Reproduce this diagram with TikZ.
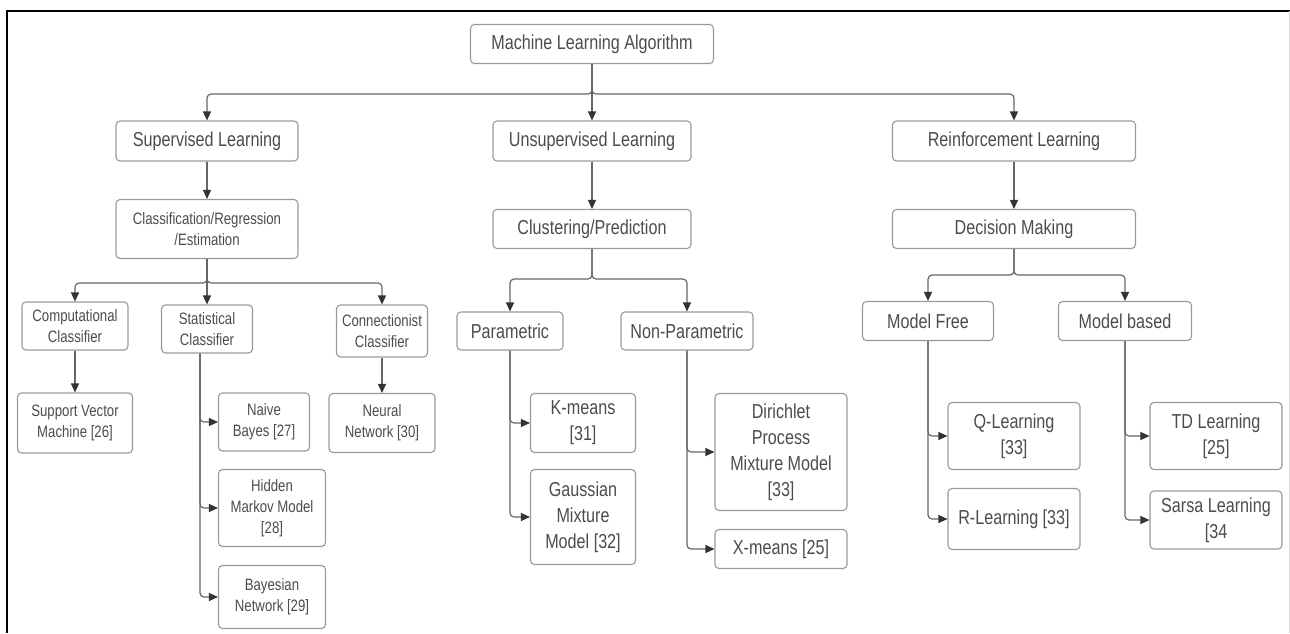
\documentclass[tikz,border=0pt]{standalone}
\usepackage{fontspec}
\setmainfont{Liberation Sans}[FakeStretch=0.8]
\usetikzlibrary{arrows.meta}
\tikzset{box/.style={draw=black!40, rounded corners=4pt, line width=1.1pt, text=black!70, align=center, inner sep=0pt}}
\tikzset{bigtext/.style={font=\fontsize{20.2}{26}\selectfont}}
\tikzset{smalltext/.style={font=\fontsize{16.5}{21}\selectfont}}
\tikzset{boxsize/.style 2 args={minimum width=#1, minimum height=#2}}
\tikzset{link/.style={draw=black!60, line width=1.2pt, rounded corners=4pt, ->, >={Triangle[length=9pt,width=8pt,color=black!80]}}}

\begin{document}
\begin{tikzpicture}[x=1pt,y=-1pt]
\useasboundingbox (0,0) rectangle (1290,633);
% frame
\draw[line width=2pt] (7,633) -- (7,11) -- (1290,11);
\draw[black!15, line width=1pt] (1289,11) -- (1289,633);

% top levels
\node[box,bigtext,boxsize={243}{39}] (mla) at (592,44) {Machine Learning Algorithm};
\node[box,bigtext,boxsize={182}{40}] (sup) at (207,141) {Supervised Learning};
\node[box,bigtext,boxsize={198}{40}] (uns) at (592,141) {Unsupervised Learning};
\node[box,bigtext,boxsize={243}{40}] (rein) at (1014,141) {Reinforcement Learning};
\node[box,smalltext,boxsize={182}{59}] (cre) at (207,229) {Classification/Regression\\/Estimation};
\node[box,bigtext,boxsize={198}{39}] (clus) at (592,229) {Clustering/Prediction};
\node[box,bigtext,boxsize={243}{39}] (dec) at (1014,229) {Decision Making};

\draw[link] (mla.south) -- ++(0,30) -| (sup.north);
\draw[link] (mla.south) -- ++(0,30) -| (rein.north);
\draw[link] (mla.south) -- (uns.north);
\draw[link] (sup) -- (cre);
\draw[link] (uns) -- (clus);
\draw[link] (rein) -- (dec);

% supervised branch
\node[box,smalltext,boxsize={106}{48}] (comp) at (75,326) {Computational\\Classifier};
\node[box,smalltext,boxsize={91}{48}] (stat) at (207,329) {Statistical\\Classifier};
\node[box,smalltext,boxsize={91}{52}] (conn) at (382,331) {Connectionist\\Classifier};
\node[box,smalltext,boxsize={115}{60}] (svm) at (75,423) {Support Vector\\Machine [26]};
\node[box,smalltext,boxsize={91}{58}] (nb) at (264,422) {Naive\\Bayes [27]};
\node[box,smalltext,boxsize={107}{77}] (hmm) at (272,508) {Hidden\\Markov Model\\{}[28]};
\node[box,smalltext,boxsize={107}{63}] (bn) at (272,597) {Bayesian\\Network [29]};
\node[box,smalltext,boxsize={106}{59}] (nn) at (382,423) {Neural\\Network [30]};

\draw[link] (cre.south) -- ++(0,24) -| (comp.north);
\draw[link] (cre.south) -- ++(0,24) -| (conn.north);
\draw[link] (cre.south) -- (stat.north);
\draw[link] (comp) -- (svm);
\draw[link] (conn) -- (nn);
\draw[link] ([xshift=-7pt]stat.south) |- (nb.west);
\draw[link] ([xshift=-7pt]stat.south) |- (hmm.west);
\draw[link] ([xshift=-7pt]stat.south) |- (bn.west);

% unsupervised branch
\node[box,bigtext,boxsize={106}{38}] (par) at (510,331) {Parametric};
\node[box,bigtext,boxsize={132}{38}] (npar) at (687,331) {Non-Parametric};
\node[box,bigtext,boxsize={105}{59}] (km) at (583,423) {K-means\\{}[31]};
\node[box,bigtext,boxsize={105}{95}] (gmm) at (583,517) {Gaussian\\Mixture\\Model [32]};
\node[box,bigtext,boxsize={132}{117}] (dpmm) at (781,452) {Dirichlet\\Process\\Mixture Model\\{}[33]};
\node[box,bigtext,boxsize={132}{39}] (xm) at (781,549) {X-means [25]};

\draw[link] (clus.south) -- ++(0,30) -| (par.north);
\draw[link] (clus.south) -- ++(0,30) -| (npar.north);
\draw[link] (par.south) |- (km.west);
\draw[link] (par.south) |- (gmm.west);
\draw[link] (npar.south) |- (dpmm.west);
\draw[link] (npar.south) |- (xm.west);

% reinforcement branch
\node[box,bigtext,boxsize={131}{39}] (mfree) at (928,321) {Model Free};
\node[box,bigtext,boxsize={133}{39}] (mbased) at (1125,321) {Model based};
\node[box,bigtext,boxsize={132}{67}] (ql) at (1014,436) {Q-Learning\\{}[33]};
\node[box,bigtext,boxsize={132}{61}] (rl) at (1014,519) {R-Learning [33]};
\node[box,bigtext,boxsize={132}{67}] (td) at (1216,436) {TD Learning\\{}[25]};
\node[box,bigtext,boxsize={132}{58}] (sarsa) at (1216,520) {Sarsa Learning\\{}[34};

\draw[link] (dec.south) -- ++(0,26) -| (mfree.north);
\draw[link] (dec.south) -- ++(0,26) -| (mbased.north);
\draw[link] (mfree.south) |- (ql.west);
\draw[link] (mfree.south) |- (rl.west);
\draw[link] (mbased.south) |- (td.west);
\draw[link] (mbased.south) |- (sarsa.west);
\end{tikzpicture}
\end{document}
